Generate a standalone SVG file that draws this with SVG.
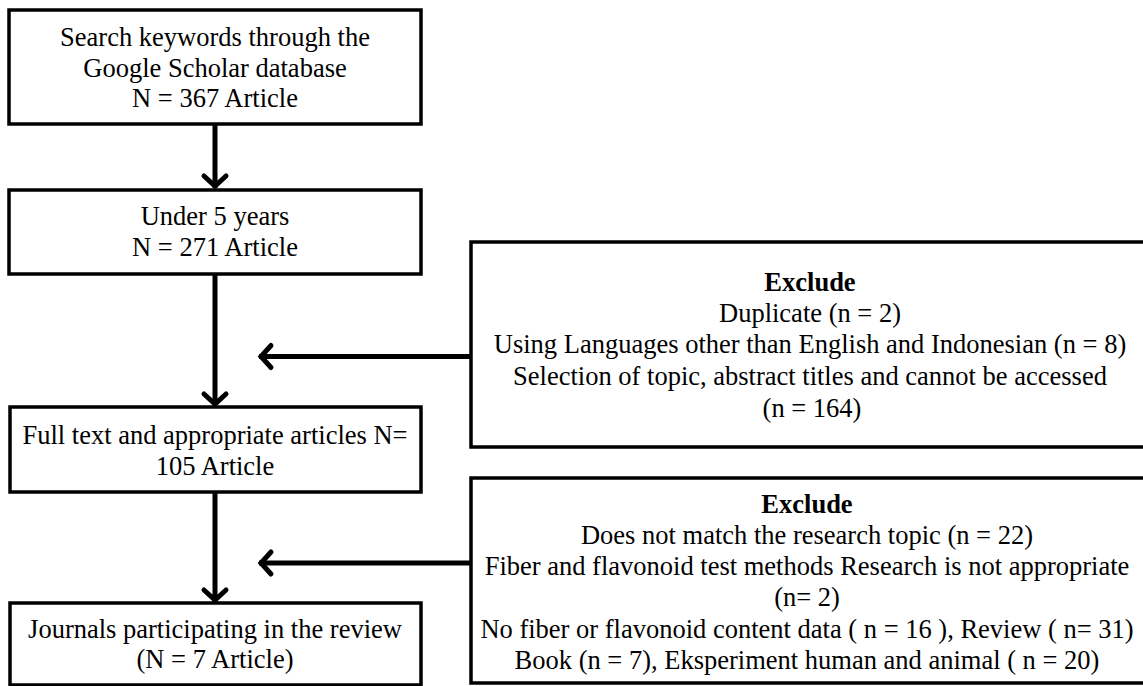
<svg xmlns="http://www.w3.org/2000/svg" width="1143" height="686" viewBox="0 0 1143 686">
  <style>
    .box { fill: #ffffff; stroke: #000000; stroke-width: 3.5; }
    .t { font-family: "Liberation Serif", "Times New Roman", serif; font-size: 26.5px; fill: #000000; text-anchor: middle; }
    .b { font-weight: bold; }
    .conn { stroke: #000000; stroke-width: 5; fill: none; }
  </style>
  <defs>
    <marker id="chev" viewBox="-16 -16 20 32" refX="0" refY="0" markerWidth="20" markerHeight="32" markerUnits="userSpaceOnUse" orient="auto">
      <path d="M-12,-11 L-2,0 L-12,11" fill="none" stroke="#000000" stroke-width="5" stroke-linecap="round" stroke-linejoin="miter"/>
    </marker>
  </defs>
  <rect width="1143" height="686" fill="#ffffff"/>

  <g id="connectors">
    <line class="conn" x1="215" y1="124" x2="215" y2="188" marker-end="url(#chev)"/>
    <line class="conn" x1="215" y1="274" x2="215" y2="406" marker-end="url(#chev)"/>
    <line class="conn" x1="215" y1="492" x2="215" y2="602" marker-end="url(#chev)"/>
    <line class="conn" x1="471" y1="356.5" x2="259" y2="356.5" marker-end="url(#chev)"/>
    <line class="conn" x1="471" y1="563" x2="259" y2="563" marker-end="url(#chev)"/>
  </g>

  <g id="search">
    <rect class="box" x="9" y="10" width="412" height="114"/>
    <text class="t" x="215" y="46">Search keywords through the</text>
    <text class="t" x="215" y="77">Google Scholar database</text>
    <text class="t" x="215" y="107">N = 367 Article</text>
  </g>

  <g id="under5">
    <rect class="box" x="9" y="190" width="412" height="84"/>
    <text class="t" x="215" y="225">Under 5 years</text>
    <text class="t" x="215" y="256">N = 271 Article</text>
  </g>

  <g id="fulltext">
    <rect class="box" x="10" y="407" width="411" height="85"/>
    <text class="t" x="215" y="444">Full text and appropriate articles N=</text>
    <text class="t" x="215" y="475">105 Article</text>
  </g>

  <g id="journals">
    <rect class="box" x="10" y="603" width="411" height="82"/>
    <text class="t" x="215" y="638">Journals participating in the review</text>
    <text class="t" x="215" y="668">(N = 7 Article)</text>
  </g>

  <g id="exclude1">
    <rect class="box" x="471" y="242" width="690" height="205"/>
    <text class="t b" x="810" y="291">Exclude</text>
    <text class="t" x="810" y="322">Duplicate (n = 2)</text>
    <text class="t" x="810" y="353">Using Languages other than English and Indonesian (n = 8)</text>
    <text class="t" x="810" y="385">Selection of topic, abstract titles and cannot be accessed</text>
    <text class="t" x="812" y="417">(n = 164)</text>
  </g>

  <g id="exclude2">
    <rect class="box" x="471" y="478" width="690" height="205"/>
    <text class="t b" x="807" y="513">Exclude</text>
    <text class="t" x="807" y="544">Does not match the research topic (n = 22)</text>
    <text class="t" x="807" y="575">Fiber and flavonoid test methods Research is not appropriate</text>
    <text class="t" x="807" y="606">(n= 2)</text>
    <text class="t" x="807" y="638">No fiber or flavonoid content data ( n = 16 ), Review ( n= 31)</text>
    <text class="t" x="807" y="669">Book (n = 7), Eksperiment human and animal ( n = 20)</text>
  </g>
</svg>
